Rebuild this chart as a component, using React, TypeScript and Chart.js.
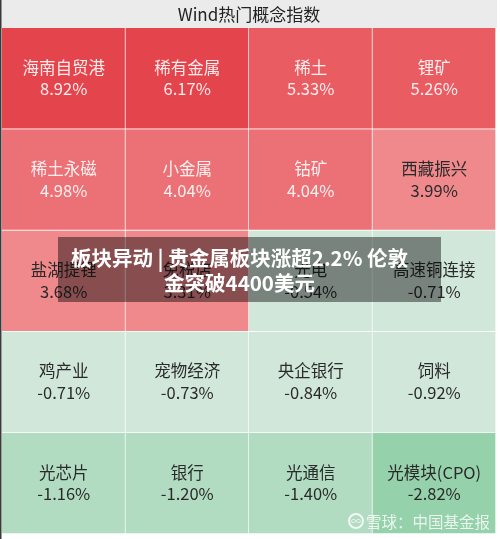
import React, { useEffect, useRef } from "react";
import { Chart, registerables } from "chart.js";

Chart.register(...registerables);

const TITLE = "Wind热门概念指数";
const COLS = 4;
const names: string[] = [
  "海南自贸港", "稀有金属", "稀土", "锂矿",
  "稀土永磁", "小金属", "钴矿", "西藏振兴",
  "盐湖提锂", "免税店", "光电", "高速铜连接",
  "鸡产业", "宠物经济", "央企银行", "饲料",
  "光芯片", "银行", "光通信", "光模块(CPO)",
];
const values: number[] = [
  8.92, 6.17, 5.33, 5.26,
  4.98, 4.04, 4.04, 3.99,
  3.68, 3.31, -0.54, -0.71,
  -0.71, -0.73, -0.84, -0.92,
  -1.16, -1.2, -1.4, -2.82,
];
const BANNER_LINES = ["板块异动 | 贵金属板块涨超2.2% 伦敦", "金突破4400美元"];
const WATERMARK = "雪球：中国基金报";

function cellColor(v: number): string {
  if (v >= 6) return "#e4444b";
  if (v >= 5) return "#e95c61";
  if (v >= 4) return "#eb7176";
  if (v >= 0) return "#ef898c";
  if (v > -1) return "#d1e7da";
  if (v > -2) return "#b1dcc1";
  return "#95d1ab";
}
function textColor(v: number): string {
  return v >= 4 ? "rgba(255,245,245,0.95)" : "#2a2a2a";
}
function fmt(v: number): string {
  return v.toFixed(2) + "%";
}

const FONT = '"Noto Sans CJK SC", "Noto Sans", sans-serif';

export default function App() {
  const ref = useRef<HTMLCanvasElement | null>(null);

  useEffect(() => {
    document.body.style.margin = "0";
    const rows = Math.ceil(names.length / COLS);
    const datasets = [] as any[];
    for (let r = 0; r < rows; r++) {
      const data: [number, number][] = [];
      const bg: string[] = [];
      for (let c = 0; c < COLS; c++) {
        data.push([r, r + 1]);
        bg.push(cellColor(values[r * COLS + c]));
      }
      datasets.push({
        label: "row" + r,
        data,
        backgroundColor: bg,
        borderColor: "rgba(255,255,255,0.55)",
        borderWidth: { top: 0, left: 0, right: 1, bottom: 1 },
        borderSkipped: false,
        grouped: false,
        barPercentage: 1,
        categoryPercentage: 1,
      });
    }

    const bgPlugin = {
      id: "bgPlugin",
      beforeDraw(chart: any) {
        const ctx = chart.ctx;
        ctx.save();
        ctx.fillStyle = "#ffffff";
        ctx.fillRect(0, 0, chart.width, chart.height);
        ctx.fillStyle = "#ebebeb";
        ctx.fillRect(0, 0, 497, chart.chartArea.top);
        ctx.fillStyle = "#3a3a3a";
        ctx.fillRect(0, 0, 1.5, chart.height);
        ctx.restore();
      },
    };

    const labelPlugin = {
      id: "cellLabels",
      afterDatasetsDraw(chart: any) {
        const ctx = chart.ctx;
        ctx.save();
        ctx.textAlign = "center";
        ctx.textBaseline = "middle";
        ctx.font = "16.5px " + FONT;
        chart.data.datasets.forEach((_ds: any, di: number) => {
          const meta = chart.getDatasetMeta(di);
          meta.data.forEach((el: any, j: number) => {
            const idx = di * COLS + j;
            const p = el.getProps(["x", "y", "base"], true);
            const cy = (p.y + p.base) / 2;
            ctx.fillStyle = textColor(values[idx]);
            ctx.fillText(names[idx], p.x, cy - 11);
            ctx.fillText(fmt(values[idx]), p.x, cy + 10.5);
          });
        });
        ctx.restore();
      },
    };

    const chart = new Chart(ref.current as HTMLCanvasElement, {
      type: "bar",
      data: {
        labels: ["c1", "c2", "c3", "c4"],
        datasets,
      },
      options: {
        responsive: false,
        animation: false,
        layout: { padding: { left: 2, right: 4, top: 0, bottom: 5 } },
        plugins: {
          legend: { display: false },
          tooltip: { enabled: false },
          title: {
            display: true,
            text: TITLE,
            color: "#222",
            font: { family: FONT, size: 17, weight: "normal" as any },
            padding: { top: 4, bottom: 3.6 },
          },
        },
        scales: {
          x: { display: false, offset: true, grid: { display: false } },
          y: { display: false, min: 0, max: rows, reverse: true },
        },
      },
      plugins: [bgPlugin, labelPlugin],
    });
    return () => chart.destroy();
  }, []);

  return (
    <div style={{ position: "relative", width: 500, height: 539, overflow: "hidden" }}>
      <canvas ref={ref} width={500} height={539} style={{ display: "block" }} />
      <div
        style={{
          position: "absolute",
          left: 58,
          top: 237,
          width: 383,
          height: 65,
          background: "rgba(0,0,0,0.43)",
        }}
      >
        <div
          style={{
            position: "absolute",
            left: 0,
            top: 8,
            width: 363,
            textAlign: "center",
            color: "#ffffff",
            fontFamily: FONT,
            fontWeight: 700,
            fontSize: 20.5,
            lineHeight: "25px",
            whiteSpace: "nowrap",
          }}
        >
          {BANNER_LINES[0]}
          <br />
          {BANNER_LINES[1]}
        </div>
      </div>
      <div
        style={{
          position: "absolute",
          left: 348,
          top: 511,
          height: 20,
          display: "flex",
          alignItems: "center",
          color: "rgba(255,255,255,0.8)",
          fontFamily: FONT,
          fontSize: 15.5,
          whiteSpace: "nowrap",
        }}
      >
        <span
          style={{
            display: "inline-block",
            width: 12,
            height: 12,
            border: "2px solid rgba(255,255,255,0.8)",
            borderRadius: "50%",
            fontSize: 10,
            lineHeight: "12px",
            textAlign: "center",
            marginRight: 2,
          }}
        >
          ∞
        </span>
        {WATERMARK}
      </div>
    </div>
  );
}
